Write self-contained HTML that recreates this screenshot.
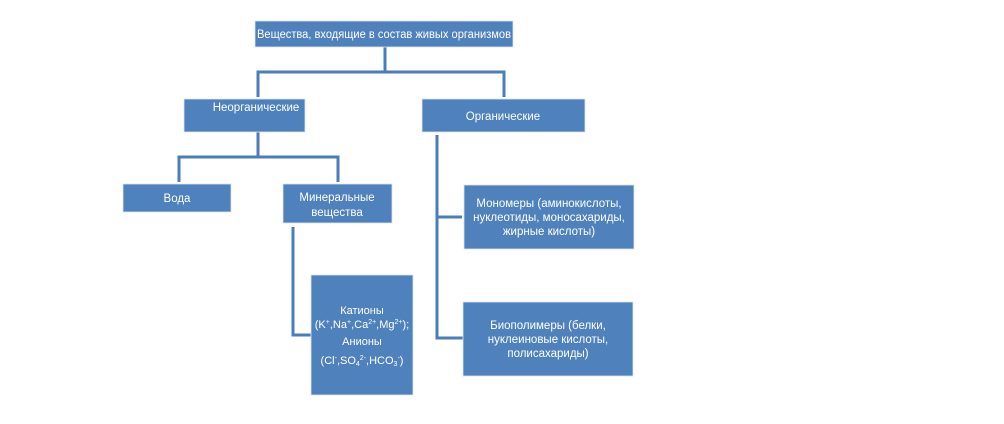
<!DOCTYPE html>
<html><head><meta charset="utf-8">
<style>
html,body{margin:0;padding:0;background:#fff;}
body{width:1004px;height:424px;overflow:hidden;position:relative;}
svg{position:absolute;left:0;top:0;}
text{font-family:"Liberation Sans","DejaVu Sans",sans-serif;fill:#fff;font-size:11.5px;}
text.s{font-size:11px;}
</style></head>
<body>
<svg width="1004" height="424" viewBox="0 0 1004 424" xmlns="http://www.w3.org/2000/svg">
<g fill="none" stroke="#4A7EBB" stroke-width="3">
  <polyline points="385,47 385,72"/>
  <polyline points="258,97 258,72 504,72 504,97"/>
  <polyline points="258,132 258,157"/>
  <polyline points="179,182 179,157 338,157 338,182"/>
  <polyline points="293,227 293,335 311,335"/>
  <polyline points="437,135 437,338 463,338"/>
  <polyline points="437,217 462,217"/>
</g>
<g fill="#4F81BD" stroke="#dde6f2" stroke-width="0.8">
  <rect x="255" y="21" width="258" height="26"/>
  <rect x="184" y="99" width="121" height="33"/>
  <rect x="422" y="99" width="163" height="33"/>
  <rect x="123" y="184" width="108" height="28"/>
  <rect x="283" y="184" width="109" height="39"/>
  <rect x="311" y="275" width="102" height="120"/>
  <rect x="464" y="185" width="170" height="64"/>
  <rect x="463" y="302" width="170" height="74"/>
</g>
<text x="384" y="38" text-anchor="middle" textLength="254" lengthAdjust="spacingAndGlyphs">Вещества, входящие в состав живых организмов</text>
<text x="256" y="111" text-anchor="middle">Неорганические</text>
<text x="503" y="120" text-anchor="middle">Органические</text>
<text x="177" y="202" text-anchor="middle">Вода</text>
<text x="337" y="201" text-anchor="middle">Минеральные</text>
<text x="337" y="216" text-anchor="middle">вещества</text>
<text class="s" x="362" y="314" text-anchor="middle">Катионы</text>
<text class="s" x="362" y="328" text-anchor="middle">(K<tspan font-size="7" dy="-4">+</tspan><tspan dy="4">,Na</tspan><tspan font-size="7" dy="-4">+</tspan><tspan dy="4">,Ca</tspan><tspan font-size="7" dy="-4">2+</tspan><tspan dy="4">,Mg</tspan><tspan font-size="7" dy="-4">2+</tspan><tspan dy="4">);</tspan></text>
<text class="s" x="362" y="345" text-anchor="middle">Анионы</text>
<text class="s" x="362" y="364" text-anchor="middle">(Cl<tspan font-size="7" dy="-4">-</tspan><tspan dy="4">,SO</tspan><tspan font-size="7" dy="2">4</tspan><tspan font-size="7" dy="-6">2-</tspan><tspan dy="4">,HCO</tspan><tspan font-size="7" dy="2">3</tspan><tspan font-size="7" dy="-6">-</tspan><tspan dy="4">)</tspan></text>
<text x="549" y="207" text-anchor="middle">Мономеры (аминокислоты,</text>
<text x="549" y="221" text-anchor="middle">нуклеотиды, моносахариды,</text>
<text x="549" y="235" text-anchor="middle">жирные кислоты)</text>
<text x="548" y="329" text-anchor="middle">Биополимеры (белки,</text>
<text x="548" y="343" text-anchor="middle">нуклеиновые кислоты,</text>
<text x="548" y="357" text-anchor="middle">полисахариды)</text>
</svg>
</body></html>
